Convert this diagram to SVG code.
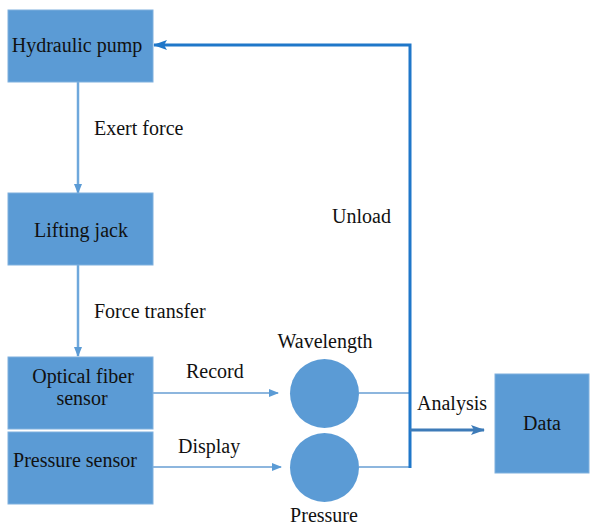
<svg xmlns="http://www.w3.org/2000/svg" width="590" height="526" viewBox="0 0 590 526">
<style>
.box{fill:#5B9BD5;stroke:#7FB0DE;stroke-width:1}
.circ{fill:#5B9BD5}
.lc{stroke:#6FA8DC;stroke-width:2.5;fill:none}
.dc{stroke:#1F77C9;stroke-width:3;fill:none}
.mc{stroke:#3D7BB8;stroke-width:3;fill:none}
.thin{stroke:#8DB6DE;stroke-width:2;fill:none}
</style>
<defs>
<marker id="al" markerWidth="10" markerHeight="8" refX="9" refY="4" orient="auto" markerUnits="userSpaceOnUse"><path d="M0,0 L10,4 L0,8 z" fill="#5B9BD5"/></marker>
<marker id="ad" markerWidth="14" markerHeight="10" refX="13" refY="5" orient="auto" markerUnits="userSpaceOnUse"><path d="M0,0 L14,5 L0,10 L3,5 z" fill="#1F77C9"/></marker>
<marker id="am" markerWidth="14" markerHeight="10" refX="13" refY="5" orient="auto" markerUnits="userSpaceOnUse"><path d="M0,0 L14,5 L0,10 L3,5 z" fill="#3D7BB8"/></marker>
</defs>
<rect width="590" height="526" fill="#fff"/>
<g id="connectors">
<line class="lc" x1="78" y1="82" x2="78" y2="193" marker-end="url(#al)"/>
<line class="lc" x1="78" y1="265" x2="78" y2="356" marker-end="url(#al)"/>
<line class="thin" x1="153" y1="393" x2="278" y2="393" marker-end="url(#al)"/>
<line class="thin" x1="153" y1="467" x2="281" y2="467" marker-end="url(#al)"/>
<line class="thin" x1="359" y1="393" x2="410" y2="393"/>
<line class="thin" x1="359" y1="467" x2="410" y2="467"/>
<polyline class="dc" points="410,468 410,45 154,45" marker-end="url(#ad)"/>
<line class="mc" x1="410" y1="430" x2="484" y2="430" marker-end="url(#am)"/>
<text font-family="'Liberation Serif','Times New Roman',serif" font-size="20" fill="#111" x="94" y="135">Exert force</text>
<text font-family="'Liberation Serif','Times New Roman',serif" font-size="20" fill="#111" x="94" y="318">Force transfer</text>
<text font-family="'Liberation Serif','Times New Roman',serif" font-size="20" fill="#111" x="186" y="378">Record</text>
<text font-family="'Liberation Serif','Times New Roman',serif" font-size="20" fill="#111" x="178" y="453">Display</text>
<text font-family="'Liberation Serif','Times New Roman',serif" font-size="20" fill="#111" x="332" y="223">Unload</text>
<text font-family="'Liberation Serif','Times New Roman',serif" font-size="20" fill="#111" x="417" y="410">Analysis</text>
</g>
<g id="hydraulic-pump">
<rect class="box" x="8" y="10" width="145" height="72"/>
<text font-family="'Liberation Serif','Times New Roman',serif" font-size="20" fill="#111" x="77" y="52" text-anchor="middle">Hydraulic pump</text>
</g>
<g id="lifting-jack">
<rect class="box" x="8" y="193" width="145" height="72"/>
<text font-family="'Liberation Serif','Times New Roman',serif" font-size="20" fill="#111" x="81" y="237" text-anchor="middle">Lifting jack</text>
</g>
<g id="optical-fiber-sensor">
<rect class="box" x="8" y="357" width="145" height="72"/>
<text font-family="'Liberation Serif','Times New Roman',serif" font-size="20" fill="#111" x="83" y="383" text-anchor="middle">Optical fiber</text>
<text font-family="'Liberation Serif','Times New Roman',serif" font-size="20" fill="#111" x="82" y="405" text-anchor="middle">sensor</text>
</g>
<g id="pressure-sensor">
<rect class="box" x="8" y="432" width="145" height="72"/>
<text font-family="'Liberation Serif','Times New Roman',serif" font-size="20" fill="#111" x="75" y="467" text-anchor="middle">Pressure sensor</text>
</g>
<g id="wavelength">
<circle class="circ" cx="324.5" cy="393.5" r="34.5"/>
<text font-family="'Liberation Serif','Times New Roman',serif" font-size="20" fill="#111" x="325" y="348" text-anchor="middle">Wavelength</text>
</g>
<g id="pressure">
<circle class="circ" cx="324.5" cy="467.5" r="34.5"/>
<text font-family="'Liberation Serif','Times New Roman',serif" font-size="20" fill="#111" x="324" y="522" text-anchor="middle">Pressure</text>
</g>
<g id="data">
<rect class="box" x="495" y="374" width="94" height="99"/>
<text font-family="'Liberation Serif','Times New Roman',serif" font-size="20" fill="#111" x="542" y="430" text-anchor="middle">Data</text>
</g>
</svg>
